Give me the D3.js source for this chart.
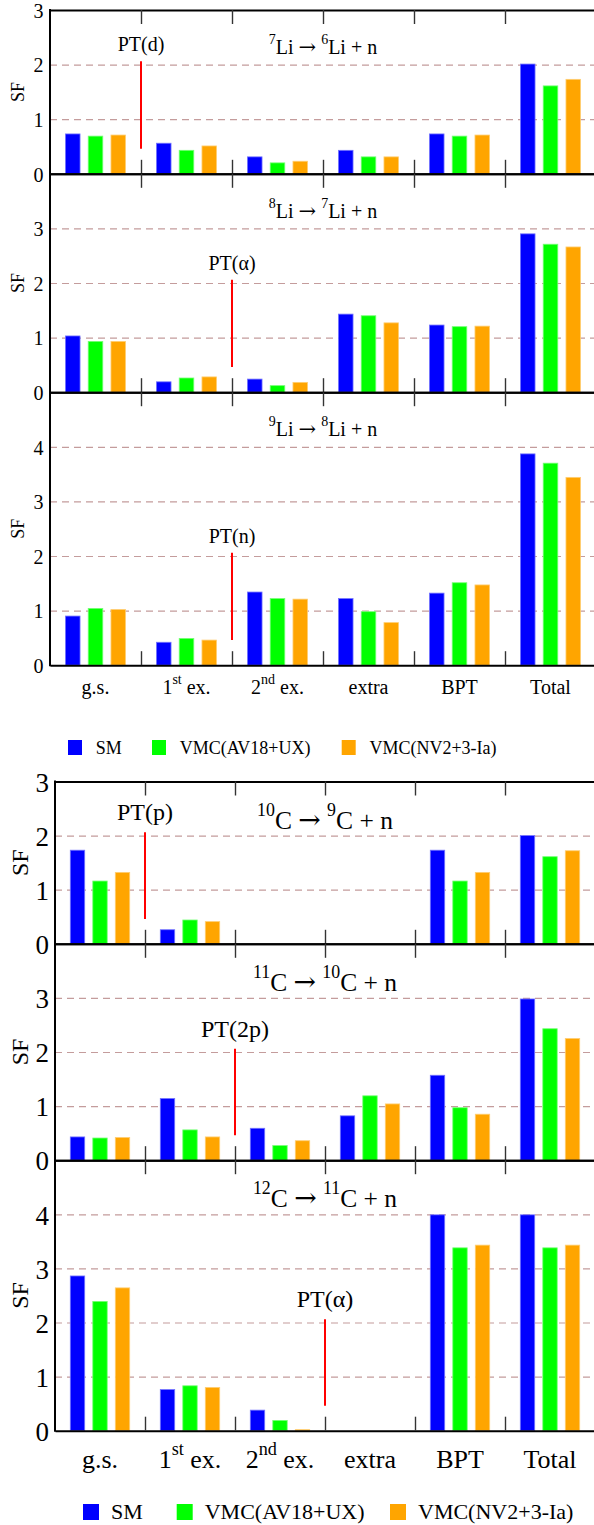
<!DOCTYPE html>
<html>
<head>
<meta charset="utf-8">
<title>Spectroscopic factors, Li and C chains</title>
<script src="https://cdn.jsdelivr.net/npm/d3@7"></script>
<style>
  body { margin: 0; background: #fff; }
  svg { display: block; font-family: "Liberation Serif", "Times New Roman", serif; }
</style>
</head>
<body>
<svg width="594" height="1525"></svg>
<script>
// categories on the x axis, {..} = superscript
var categories = ["g.s.", "1{st} ex.", "2{nd} ex.", "extra", "BPT", "Total"];
var series = ["SM", "VMC(AV18+UX)", "VMC(NV2+3-Ia)"];
var colors = ["#0000ff", "#00ff00", "#ffa500"];

// SF values, one row per category: [SM, AV18+UX, NV2+3-Ia]
var li7 = [[0.73, 0.69, 0.71], [0.56, 0.43, 0.51], [0.31, 0.20, 0.23],
           [0.43, 0.31, 0.31], [0.73, 0.69, 0.71], [2.01, 1.61, 1.73]];
var li8 = [[1.03, 0.93, 0.93], [0.19, 0.26, 0.28], [0.24, 0.12, 0.18],
           [1.43, 1.40, 1.27], [1.23, 1.20, 1.21], [2.90, 2.71, 2.66]];
var li9 = [[0.90, 1.04, 1.02], [0.42, 0.49, 0.46], [1.34, 1.22, 1.21],
           [1.22, 0.98, 0.78], [1.32, 1.51, 1.47], [3.87, 3.70, 3.44]];
var c10 = [[1.73, 1.16, 1.32], [0.26, 0.44, 0.41], [0, 0, 0],
           [0, 0, 0], [1.73, 1.16, 1.32], [2.00, 1.61, 1.72]];
var c11 = [[0.43, 0.41, 0.42], [1.14, 0.56, 0.43], [0.59, 0.27, 0.36],
           [0.82, 1.19, 1.04], [1.57, 0.97, 0.85], [2.98, 2.43, 2.25]];
var c12 = [[2.86, 2.39, 2.64], [0.76, 0.83, 0.80], [0.38, 0.19, 0.02],
           [0, 0, 0], [3.99, 3.38, 3.43], [3.99, 3.38, 3.43]];

var liTitles = ["{7}Li \u2192 {6}Li + n", "{8}Li \u2192 {7}Li + n", "{9}Li \u2192 {8}Li + n"];
var cTitles = ["{10}C \u2192 {9}C + n", "{11}C \u2192 {10}C + n", "{12}C \u2192 {11}C + n"];
var yMax = [3, 4, 5];
// particle thresholds: group boundary index and label
var liPT = [[1, "PT(d)"], [2, "PT(\u03b1)"], [2, "PT(n)"]];
var cPT = [[1, "PT(p)"], [2, "PT(2p)"], [3, "PT(\u03b1)"]];
var ptRange = [0.46, 2.06];

var svg = d3.select("svg");

var figLi = {
  data: [li7, li8, li9], titles: liTitles, pt: liPT,
  left: 50, right: 596, top: 10, unit: 54.6,
  tickFont: 20, labelEnd: 43.5, sfFont: 18, sfX: 18,
  titleFont: 20, titleDy: 44, ptFont: 20, ptGap: 10,
  xFont: 20, xDy: 29,
  legY: 740, legSize: 15, legW: 14, legFont: 18, legX: [68, 152, 341.7], legGap: 27.7
};
var figC = {
  data: [c10, c11, c12], titles: cTitles, pt: cPT,
  left: 55, right: 595, top: 781.5, unit: 54.1,
  tickFont: 27, labelEnd: 49, sfFont: 24, sfX: 20,
  titleFont: 25.5, titleDy: 47, ptFont: 24, ptGap: 12,
  xFont: 26, xDy: 37,
  legY: 1504, legSize: 16, legW: 16, legFont: 22, legX: [83, 176.7, 390], legGap: 28
};

// text with {superscript} parts; the arrow gets a font with a proper math arrow
function rich(text, str, fs) {
  var raise = 0.5 * fs, up = false;
  str.split(/(\{[^}]*\}|\u2192)/).filter(function(s) { return s.length; }).forEach(function(s) {
    if (s[0] == "{") {
      text.append("tspan").attr("font-size", 0.7 * fs).attr("dy", -raise).text(s.slice(1, -1));
      up = true;
    } else {
      var ts = text.append("tspan").attr("font-size", fs).attr("dy", up ? raise : 0).text(s);
      if (s == "\u2192") ts.attr("font-family", "DejaVu Serif").attr("font-size", fs * 1.05);
      up = false;
    }
  });
}

function drawFigure(f) {
  var g = svg.append("g");
  var x = d3.scaleBand().domain(d3.range(categories.length)).range([f.left, f.right]);
  var xb = d3.scaleLinear().domain([0, categories.length]).range([f.left, f.right]);
  var xs = d3.scaleBand().domain(d3.range(series.length)).range([0, x.bandwidth()])
      .paddingInner(0.36).paddingOuter(0.68);

  var top = f.top;
  f.data.forEach(function(rows, i) {
    var max = yMax[i];
    var zero = top + max * f.unit;
    var y = d3.scaleLinear().domain([0, max]).range([zero, top]);
    var p = g.append("g");

    // dashed grid
    p.append("g")
        .call(d3.axisLeft(y).tickValues(d3.range(1, max)).tickSize(-(f.right - f.left)).tickFormat(""))
        .attr("transform", "translate(" + f.left + ",0)")
      .call(function(a) {
        a.select(".domain").remove();
        a.selectAll("line").attr("stroke", "#c49c9c").attr("stroke-width", 1.2)
          .attr("stroke-dasharray", "7,5");
      });

    // y tick labels
    var yl = p.append("g")
        .attr("transform", "translate(" + f.left + ",0)")
        .call(d3.axisLeft(y).tickValues(d3.range(0, i == 0 ? max + 1 : max))
          .tickSize(0).tickPadding(f.left - f.labelEnd).tickFormat(d3.format("d")));
    yl.select(".domain").remove();
    yl.attr("font-family", null).attr("font-size", f.tickFont);
    yl.selectAll("text").attr("fill", "#000").attr("dy", "0.36em");

    // bars
    rows.forEach(function(vals, c) {
      p.selectAll(null).data(vals).enter().append("rect")
        .attr("x", function(d, s) { return x(c) + xs(s); })
        .attr("width", xs.bandwidth())
        .attr("y", function(d) { return y(d); })
        .attr("height", function(d) { return y(0) - y(d); })
        .attr("fill", function(d, s) { return colors[s]; })
        .attr("stroke", function(d, s) { return d > 0 ? d3.interpolateRgb(colors[s], "#fff")(0.45) : "none"; })
        .attr("stroke-width", 0.8);
    });

    // inward ticks at group boundaries, top and bottom
    var bottomAx = p.append("g").attr("transform", "translate(0," + zero + ")")
        .call(d3.axisBottom(xb).tickValues(d3.range(1, categories.length)).tickSize(-14)
          .tickSizeOuter(0).tickFormat(""));
    var topAx = p.append("g").attr("transform", "translate(0," + top + ")")
        .call(d3.axisTop(xb).tickValues(d3.range(1, categories.length)).tickSize(-14)
          .tickSizeOuter(0).tickFormat(""));
    [bottomAx, topAx].forEach(function(a) {
      a.selectAll(".tick line").attr("stroke", "#333").attr("stroke-width", 1.4);
      a.select(".domain").attr("stroke", "#000").attr("stroke-width", 2);
    });

    // threshold marker
    var pt = f.pt[i];
    p.append("line")
      .attr("x1", xb(pt[0])).attr("x2", xb(pt[0]))
      .attr("y1", y(ptRange[0])).attr("y2", y(ptRange[1]))
      .attr("stroke", "#ff0000").attr("stroke-width", 2);
    p.append("text")
      .attr("x", xb(pt[0])).attr("y", y(ptRange[1]) - f.ptGap)
      .attr("text-anchor", "middle").attr("font-size", f.ptFont)
      .text(pt[1]);

    // reaction title
    var t = p.append("text")
      .attr("x", (f.left + f.right) / 2).attr("y", top + f.titleDy)
      .attr("text-anchor", "middle");
    rich(t, f.titles[i], f.titleFont);

    // y label
    p.append("text")
      .attr("transform", "translate(" + f.sfX + "," + (top + zero) / 2 + ") rotate(-90)")
      .attr("text-anchor", "middle").attr("dy", "0.35em")
      .attr("font-size", f.sfFont)
      .text("SF");

    top = zero;
  });

  // left axis
  g.append("line")
    .attr("x1", f.left).attr("x2", f.left)
    .attr("y1", f.top - 1).attr("y2", top + 1)
    .attr("stroke", "#000").attr("stroke-width", 2);

  // category labels
  categories.forEach(function(c, k) {
    var t = g.append("text")
      .attr("x", x(k) + x.bandwidth() / 2).attr("y", top + f.xDy)
      .attr("text-anchor", "middle");
    rich(t, c, f.xFont);
  });

  // legend
  series.forEach(function(s, k) {
    g.append("rect")
      .attr("x", f.legX[k]).attr("y", f.legY)
      .attr("width", f.legW).attr("height", f.legSize)
      .attr("fill", colors[k]);
    g.append("text")
      .attr("x", f.legX[k] + f.legGap).attr("y", f.legY + f.legSize - 1)
      .attr("font-size", f.legFont)
      .text(s);
  });
}

drawFigure(figLi);
drawFigure(figC);
</script>
</body>
</html>
